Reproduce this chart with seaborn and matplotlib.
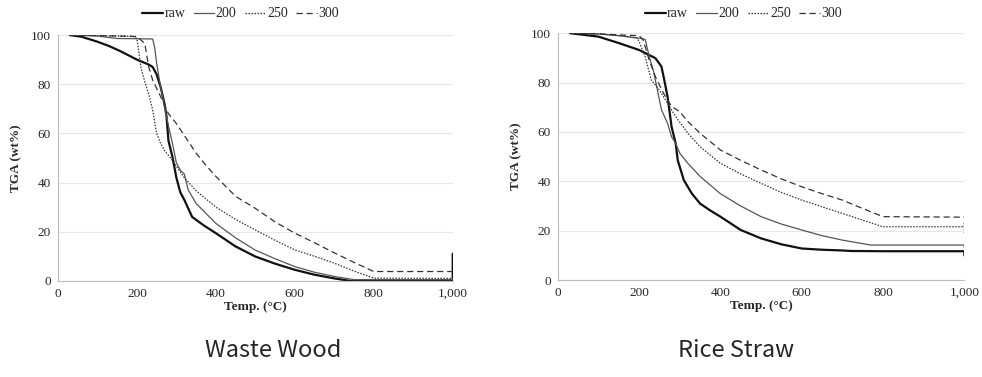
import matplotlib
matplotlib.use('Agg')
import matplotlib.pyplot as plt
import matplotlib.ticker as mticker
import seaborn as sns

# ── DATA ──────────────────────────────────────────────────────────
series_names = ['raw', '200', '250', '300']

# Waste Wood
ww_raw_x = [30, 60, 100, 130, 160, 200, 230, 240, 250, 260, 270, 275, 280, 290, 300, 310, 320, 340, 370, 400, 450, 500, 550, 600, 650, 700, 740, 800, 1000, 1000]
ww_raw_y = [100, 99.3, 97.3, 95.5, 93.3, 90, 88, 87, 84, 79, 72, 67, 57, 50.5, 42, 36, 33, 26, 22.5, 19.4, 14, 9.9, 7, 4.5, 2.5, 1, 0, 0, 0, 11]
ww_200_x = [30, 100, 150, 200, 240, 245, 250, 260, 270, 280, 290, 300, 310, 320, 330, 350, 400, 450, 500, 550, 600, 650, 700, 750, 800, 1000]
ww_200_y = [100, 99.6, 98.6, 98.5, 98.4, 95, 88.5, 79, 71, 63, 56, 48, 45, 43.5, 37, 31.5, 23.4, 17.5, 12.5, 9, 5.8, 3.5, 1.8, 0.5, 0.5, 0.5]
ww_250_x = [30, 100, 150, 190, 200, 205, 210, 220, 230, 240, 250, 260, 270, 290, 320, 350, 400, 450, 500, 550, 600, 650, 700, 750, 800, 1000]
ww_250_y = [100, 99.8, 99.6, 99.5, 98.6, 93, 87, 81, 76, 69.5, 60, 56, 53, 49, 42, 36.7, 30, 25, 20.7, 16.5, 12.6, 10, 7.2, 4, 1.1, 1]
ww_300_x = [30, 100, 150, 200, 220, 230, 240, 260, 280, 300, 325, 350, 375, 400, 450, 500, 550, 600, 650, 700, 750, 800, 1000]
ww_300_y = [100, 99.8, 99.6, 99.4, 96.6, 87, 81.7, 75, 68, 64, 58, 52, 47, 42.5, 34.4, 29.5, 24, 19.4, 15.5, 11.4, 7.5, 3.8, 3.8]

# Rice Straw
rs_raw_x = [30, 100, 150, 200, 240, 255, 262, 270, 280, 290, 295, 310, 330, 350, 375, 400, 425, 450, 500, 550, 600, 650, 700, 720, 800, 1000, 1000]
rs_raw_y = [100, 98.6, 96, 93.2, 89.9, 86.5, 81, 74.3, 62, 55.4, 48.6, 40.5, 35, 31, 28.2, 25.7, 23, 20.3, 16.9, 14.5, 12.8, 12.3, 12, 11.8, 11.7, 11.7, 10]
rs_200_x = [30, 100, 150, 200, 215, 225, 235, 245, 255, 270, 280, 290, 300, 320, 350, 400, 450, 500, 550, 600, 650, 700, 770, 800, 1000, 1000]
rs_200_y = [100, 99.7, 99, 98, 97.5, 90.5, 85, 77, 69, 63.5, 58, 55.4, 51.4, 47.3, 42, 35, 30, 25.7, 22.7, 20.3, 18, 16.2, 14.2, 14.2, 14.2, 13]
rs_250_x = [30, 100, 150, 195, 200, 215, 230, 250, 270, 290, 320, 350, 400, 450, 500, 550, 600, 650, 700, 750, 800, 1000, 1000, 1000]
rs_250_y = [100, 99.7, 99, 98, 96.6, 90.5, 81, 77, 71.6, 66.2, 59.5, 54, 47.3, 43, 39.2, 35.5, 32.4, 29.7, 27, 24.3, 21.6, 21.6, 23, 19]
rs_300_x = [30, 100, 150, 200, 210, 225, 240, 260, 280, 300, 320, 350, 400, 450, 500, 550, 600, 650, 700, 750, 800, 1000]
rs_300_y = [100, 99.7, 99.3, 99, 97.3, 89, 82.4, 75.7, 70.3, 68.2, 64.2, 59.5, 52.7, 48.5, 44.6, 41, 37.8, 35, 32.4, 29, 25.7, 25.5]

x_ticks = [0, 200, 400, 600, 800, 1000]
y_ticks = [0, 20, 40, 60, 80, 100]

panels = [
    ('Waste Wood', [(ww_raw_x, ww_raw_y), (ww_200_x, ww_200_y), (ww_250_x, ww_250_y), (ww_300_x, ww_300_y)]),
    ('Rice Straw', [(rs_raw_x, rs_raw_y), (rs_200_x, rs_200_y), (rs_250_x, rs_250_y), (rs_300_x, rs_300_y)]),
]

styles = [
    dict(color='#111111', linewidth=1.6, linestyle='-'),
    dict(color='#555555', linewidth=0.9, linestyle='-'),
    dict(color='#333333', linewidth=0.9, linestyle=(0, (1.2, 1.2))),
    dict(color='#333333', linewidth=0.9, linestyle=(0, (5, 3))),
]

# ── PLOT ─────────────────────────────────────────────────────────
sns.set_style('white')
plt.rcParams['font.family'] = ['Liberation Serif', 'DejaVu Serif']

fig = plt.figure(figsize=(9.82, 3.77), dpi=100)
axes_pos = [[0.059, 0.255, 0.402, 0.652], [0.568, 0.257, 0.414, 0.655]]
legend_x = [0.245, 0.757]
title_x = [0.278, 0.750]

for i, (title, data) in enumerate(panels):
    ax = fig.add_axes(axes_pos[i])
    for name, (xs, ys), st in zip(series_names, data, styles):
        sns.lineplot(x=xs, y=ys, ax=ax, sort=False, estimator=None, label=name, **st)
    ax.set_xlim(0, 1000)
    ax.set_ylim(0, 100)
    ax.set_xticks(x_ticks)
    ax.set_yticks(y_ticks)
    ax.xaxis.set_major_formatter(mticker.FuncFormatter(lambda v, p: f'{int(v):,}'))
    ax.tick_params(labelsize=9.5, length=3, color='#bbbbbb', pad=2)
    ax.grid(axis='y', color='#e6e6e6', linewidth=0.8)
    for s in ['top', 'right']:
        ax.spines[s].set_visible(False)
    for s in ['left', 'bottom']:
        ax.spines[s].set_color('#bbbbbb')
        ax.spines[s].set_linewidth(0.8)
    ax.set_xlabel('Temp. (°C)', fontsize=9.5, fontweight='bold', labelpad=1)
    ax.set_ylabel('TGA (wt%)', fontsize=9.5, fontweight='bold', labelpad=6)
    h, l = ax.get_legend_handles_labels()
    ax.get_legend().remove()
    fig.legend(h, l, loc='center', bbox_to_anchor=(legend_x[i], 0.963), ncol=4,
               frameon=False, fontsize=10, handlelength=1.5, handletextpad=0.1,
               columnspacing=0.6)
    fig.text(title_x[i], 0.07, title, ha='center', va='center', fontsize=17,
             family=['Noto Sans CJK KR', 'DejaVu Sans'])

fig.savefig('out.png', dpi=100)
